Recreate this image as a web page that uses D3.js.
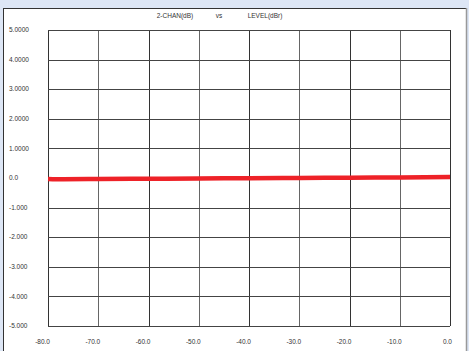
<!DOCTYPE html>
<html>
<head>
<meta charset="utf-8">
<script src="https://cdn.jsdelivr.net/npm/d3@7"></script>
<style>
  body { margin: 0; background: #dde6f5; }
  svg { display: block; }
  text { font-family: "Liberation Sans", Arial, sans-serif; fill: #333; }
</style>
</head>
<body>
<svg id="chart" width="469" height="351"></svg>
<script>
// level (dBr) along x, 2-channel deviation (dB) along y
const levels = [-80, -77, -70, -60, -50, -40, -30, -20, -10, 0];
const chanDb = [-0.03, -0.04, -0.035, -0.025, -0.015, -0.01, 0.0, 0.01, 0.02, 0.03];

const xTicks = [-80, -70, -60, -50, -40, -30, -20, -10, 0];
const xTickLabels = ["-80.0", "-70.0", "-60.0", "-50.0", "-40.0", "-30.0", "-20.0", "-10.0", "0.0"];
const yTicks = [5, 4, 3, 2, 1, 0, -1, -2, -3, -4, -5];
const yTickLabels = ["5.0000", "4.0000", "3.0000", "2.0000", "1.0000", "0.0", "-1.000", "-2.000", "-3.000", "-4.000", "-5.000"];

const svg = d3.select("#chart");

// white panel
svg.append("rect")
  .attr("x", 3.5).attr("y", 8.5)
  .attr("width", 463).attr("height", 350)
  .attr("fill", "#fff")
  .attr("stroke", "#333");
svg.append("line")
  .attr("x1", 466.5).attr("x2", 466.5).attr("y1", 8).attr("y2", 351)
  .attr("stroke", "#999").attr("stroke-width", 1.5);

const plot = { left: 48, right: 450, top: 30, bottom: 326 };

const x = d3.scaleLinear().domain([-80, 0]).range([plot.left, plot.right]);
const y = d3.scaleLinear().domain([-5, 5]).range([plot.bottom, plot.top]);

// title
const title = svg.append("g").attr("font-size", 6.5);
title.append("text").attr("x", 175).attr("y", 18).attr("text-anchor", "middle").text("2-CHAN(dB)");
title.append("text").attr("x", 219).attr("y", 18).attr("text-anchor", "middle").text("vs");
title.append("text").attr("x", 265).attr("y", 18).attr("text-anchor", "middle").text("LEVEL(dBr)");

// grid
const grid = svg.append("g");
grid.selectAll(".vg").data(xTicks).join("line")
  .attr("class", "vg")
  .attr("x1", d => Math.round(x(d)) + 0.5).attr("x2", d => Math.round(x(d)) + 0.5)
  .attr("y1", plot.top).attr("y2", plot.bottom)
  .attr("stroke", (d, i) => i % 2 ? "#666" : "#333").attr("stroke-width", 1);
grid.selectAll(".hg").data(yTicks).join("line")
  .attr("class", "hg")
  .attr("x1", plot.left).attr("x2", plot.right)
  .attr("y1", d => Math.round(y(d)) + 0.5).attr("y2", d => Math.round(y(d)) + 0.5)
  .attr("stroke", "#444").attr("stroke-width", 1);

// tick labels
svg.append("g").attr("font-size", 6.5)
  .selectAll("text").data(yTicks).join("text")
  .attr("x", 9)
  .attr("y", d => y(d))
  .attr("dy", "0.35em")
  .text((d, i) => yTickLabels[i]);

svg.append("g").attr("font-size", 6.5)
  .selectAll("text").data(xTicks).join("text")
  .attr("x", d => x(d) + 2)
  .attr("y", 344)
  .attr("text-anchor", "end")
  .text((d, i) => xTickLabels[i]);

// data line
const line = d3.line()
  .x((d, i) => x(levels[i]))
  .y(d => y(d))
  .curve(d3.curveMonotoneX);

svg.append("path")
  .datum(chanDb)
  .attr("d", line)
  .attr("fill", "none")
  .attr("stroke", "#ee2228")
  .attr("stroke-width", 4.5);
</script>
</body>
</html>
